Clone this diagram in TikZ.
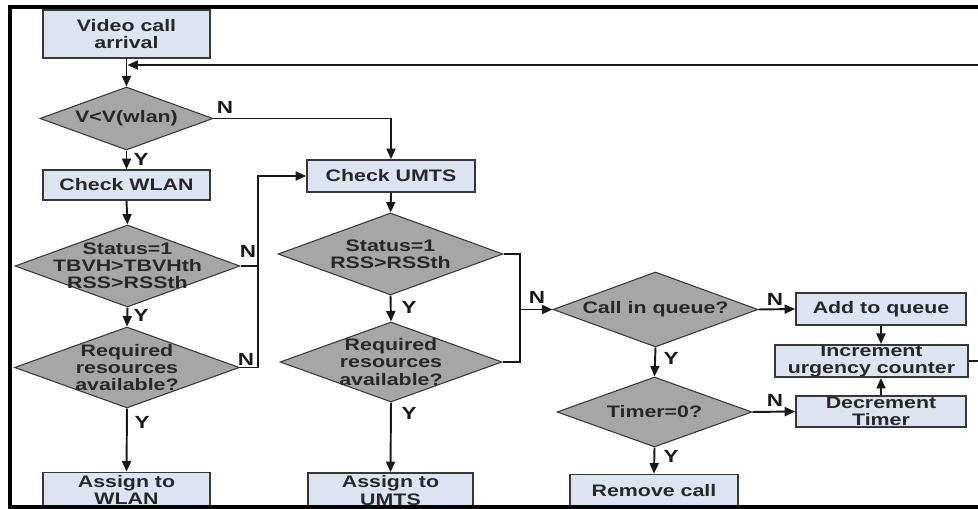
\documentclass[tikz,border=0pt]{standalone}
\usepackage{fontspec}
\setmainfont{Liberation Sans}[FakeStretch=1.28]
\usetikzlibrary{arrows.meta,shapes.geometric}
\definecolor{boxfill}{RGB}{221,228,241}
\definecolor{dmdfill}{RGB}{166,166,166}
\definecolor{txtc}{RGB}{40,40,40}
\definecolor{edgec}{RGB}{55,55,55}
\definecolor{linec}{RGB}{25,25,25}
\tikzset{
  txt/.style={font=\fontsize{9.5}{9.8}\selectfont\bfseries, text=txtc, align=center, inner sep=0pt},
  procbox/.style={txt, draw=edgec, line width=1pt, fill=boxfill},
  decision/.style={diamond, draw=edgec, line width=0.6pt, fill=dmdfill, inner sep=0pt},
  yn/.style={font=\fontsize{10}{10}\selectfont\bfseries, text=linec, inner sep=0pt},
  conn/.style={line width=1.1pt, draw=linec},
  arr/.style={conn, -{Triangle[length=0.21cm,width=0.18cm]}},
}
\begin{document}
\begin{tikzpicture}[x=0.02cm,y=-0.02cm]
\useasboundingbox (0,0) rectangle (978,509);
% ---- left column (WLAN)
\node[procbox, minimum width=3.34cm, minimum height=0.96cm] (vc) at (126.5,34) {Video call\\arrival};
\node[decision, minimum width=3.46cm, minimum height=1.26cm] (d1) at (126.5,118.5) {};
\node[txt] (d1t) at (d1) {V<V(wlan)};
\node[procbox, minimum width=3.34cm, minimum height=0.6cm] (cw) at (126.5,185) {Check WLAN};
\node[decision, minimum width=4.5cm, minimum height=1.64cm] (s1) at (127.5,266) {};
\node[txt] (s1t) at (s1) {Status=1\\TBVH>TBVHth\\RSS>RSSth};
\node[decision, minimum width=4.5cm, minimum height=1.62cm] (r1) at (127,367.5) {};
\node[txt] (r1t) at (r1) {Required\\resources\\available?};
\node[procbox, minimum width=3.34cm, minimum height=0.7cm] (aw) at (126.5,490) {Assign to\\WLAN};
% ---- middle column (UMTS)
\node[procbox, minimum width=3.36cm, minimum height=0.64cm] (cu) at (391,176) {Check UMTS};
\node[decision, minimum width=4.5cm, minimum height=1.64cm] (s2) at (390.5,254) {};
\node[txt] (s2t) at (s2) {Status=1\\RSS>RSSth};
\node[decision, minimum width=4.44cm, minimum height=1.6cm] (r2) at (391,362) {};
\node[txt] (r2t) at (r2) {Required\\resources\\available?};
\node[procbox, minimum width=3.3cm, minimum height=0.7cm] (au) at (390.5,490.5) {Assign to\\UMTS};
% ---- right part (queue)
\node[decision, minimum width=4.1cm, minimum height=1.5cm] (q) at (655.5,309.5) {};
\node[txt] (qt) at (q) {Call in queue?};
\node[decision, minimum width=3.9cm, minimum height=1.4cm] (t) at (654.5,412) {};
\node[txt] (tt) at (t) {Timer=0?};
\node[procbox, minimum width=3.36cm, minimum height=0.66cm] (rm) at (654,491) {Remove call};
\node[procbox, minimum width=3.4cm, minimum height=0.64cm] (add) at (881,309) {Add to queue};
\node[procbox, minimum width=3.86cm, minimum height=0.64cm] (inc) at (871.5,361) {Increment\\urgency counter};
\node[procbox, minimum width=3.4cm, minimum height=0.62cm] (dec) at (881,411.5) {Decrement\\Timer};
% ---- helper coordinates
\coordinate (jw) at (258,0);
\coordinate (ju) at (520,0);
\coordinate (fbR) at (978,65);
\coordinate (fbI) at (978,361);
% ---- connectors
\draw[arr] (vc.south) -- (d1.north);
\draw[arr] (fbR) -- ([xshift=0.02cm]vc.south |- fbR);
\draw[arr] (d1.south) -- (cw.north);
\draw[arr] (d1.east) -- (cu.north |- d1.east) -- (cu.north);
\draw[arr] (cw.south) -- (s1.north);
\draw[arr] (s1.south) -- (r1.north);
\draw[arr] (r1.south) -- (aw.north);
\draw[conn] (s1.east) -- (jw |- s1.east);
\draw[arr] (r1.east) -- (jw |- r1.east) -- (jw |- cu.west) -- (cu.west);
\draw[arr] (cu.south) -- (s2.north);
\draw[arr] (s2.south) -- (r2.north);
\draw[arr] (r2.south) -- (au.north);
\draw[conn] (s2.east) -- (ju |- s2.east) -- (ju |- r2.east) -- (r2.east);
\draw[arr] (ju |- q.west) -- (q.west);
\draw[arr] (q.east) -- (add.west);
\draw[arr] (q.south) -- (t.north);
\draw[arr] (t.east) -- (dec.west);
\draw[arr] (t.south) -- (rm.north);
\draw[arr] (add.south) -- (add.south |- inc.north);
\draw[arr] (dec.north) -- (dec.north |- inc.south);
\draw[conn] (inc.east) -- (fbI);
% ---- Y / N labels
\node[yn] (n1) at (225,107) {N};
\node[yn] (y1) at (141,159) {Y};
\node[yn] (n2) at (248,251) {N};
\node[yn] (y2) at (141,315) {Y};
\node[yn] (n3) at (246,359) {N};
\node[yn] (y3) at (142,422) {Y};
\node[yn] (y4) at (409,307) {Y};
\node[yn] (y5) at (409,413) {Y};
\node[yn] (n4) at (537,297) {N};
\node[yn] (n5) at (775,299) {N};
\node[yn] (y6) at (671,358) {Y};
\node[yn] (n6) at (775,400) {N};
\node[yn] (y7) at (671,456) {Y};
% ---- frame
\draw[line width=2.2pt, black] (978,7) -- (10,7) -- (10,507) -- (978,507);
\end{tikzpicture}
\end{document}
